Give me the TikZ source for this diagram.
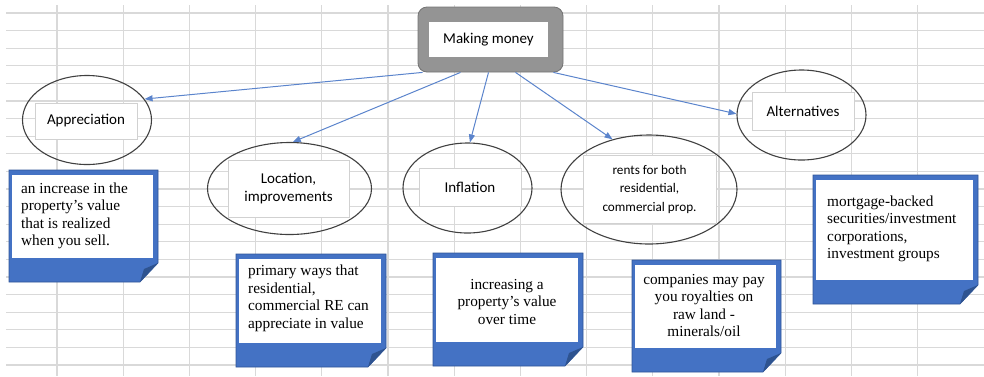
\documentclass[tikz,border=0pt]{standalone}
\usepackage{fontspec}
\setmainfont{Liberation Serif}
\newfontfamily\boxfont{Carlito}
\usetikzlibrary{arrows.meta,shapes.geometric}
\definecolor{gridgray}{HTML}{D9D9D9}
\definecolor{notecol}{HTML}{4472C4}
\definecolor{notedge}{HTML}{2F5597}
\definecolor{notefold}{HTML}{2E5390}
\definecolor{linkblue}{HTML}{5B84CC}
\def\note(#1,#2)(#3,#4){%
	\filldraw[fill=notecol, draw=notedge, line width=0.6pt] (#1,#2) -- (#3,#2) -- (#3,{#4-19}) -- ({#3-18},#4) -- (#1,#4) -- cycle;
	\fill[white] ({#1+3},{#2+5}) rectangle ({#3-5},{#4-24});
	\fill[notefold] ({#3-18},#4) -- (#3,{#4-19}) -- ({#3-14},{#4-13}) -- cycle;}

\begin{document}
\begin{tikzpicture}[x=1pt,y=-1pt,
	gridline/.style={draw=gridgray, line width=1.2pt},
	bubble/.style={ellipse, draw=black!75, line width=1.1pt, inner sep=0},
	tagbox/.style={draw=black!18, fill=white, line width=0.9pt, inner sep=0, align=center, font=\boxfont\fontsize{15}{18}\selectfont},
	link/.style={draw=linkblue, line width=1pt, -{Triangle[length=8pt,width=6pt]}},
	notetext/.style={inner sep=0, font=\fontsize{15.3}{17.5}\selectfont}]
	%%%%% START %%%%%
	\useasboundingbox (0,0) rectangle (984,376);
	
	% sheet grid
	\foreach \i in {0,...,13}
		\draw[gridline] ({57+66.2*\i},5) -- ({57+66.2*\i},376);
	\foreach \j in {0,...,20}
		\draw[gridline] (6,{13+17.6*\j}) -- (984,{13+17.6*\j});
	
	% top box
	\node[draw=black!55, fill=black!42, line width=0.8pt, rounded corners=9pt, minimum width=145, minimum height=65] (frame) at (490.5,39.5) {};
	\node[fill=white, inner sep=0, minimum width=119, minimum height=35, font=\boxfont\fontsize{15}{18}\selectfont] (money) at (488.5,39.5) {Making money};
	
	% ellipses
	\node[bubble, minimum width=129, minimum height=89] (appr) at (87,120) {};
	\node[tagbox, minimum width=102, minimum height=36] (apprtag) at (86,121) {Appreciation};
	
	\node[bubble, minimum width=164, minimum height=92] (loc) at (289.5,188.5) {};
	\node[tagbox, minimum width=121, minimum height=57] (loctag) at (288.5,188.5) {Location,\\improvements};
	
	\node[bubble, minimum width=129, minimum height=90] (infl) at (467.5,188) {};
	\node[tagbox, minimum width=102, minimum height=38] (infltag) at (470,187) {Inflation};
	
	\node[bubble, minimum width=176, minimum height=109] (rents) at (649,189.5) {};
	\node[tagbox, minimum width=133, minimum height=68, font=\boxfont\fontsize{13.2}{18.5}\selectfont] (rentstag) at (649.5,189) {rents for both\\residential,\\commercial prop.};
	
	\node[bubble, minimum width=129, minimum height=90] (alt) at (801.5,115) {};
	\node[tagbox, minimum width=102, minimum height=38] (alttag) at (803,111) {Alternatives};
	
	% arrows
	\draw[link] ([xshift=5]frame.south west) -- (appr.20);
	\draw[link] ([xshift=-30]frame.south) -- (loc.86);
	\draw[link] ([xshift=-2]frame.south) -- (infl.87);
	\draw[link] ([xshift=25]frame.south) -- (rents.126);
	\draw[link] ([xshift=-10]frame.south east) -- (alt.179);
	
	% notes
	\note(9,170)(158,282);
	\node[notetext, anchor=west, align=left] (apprnote) at (21,216) {an increase in the\\property's value\\that is realized\\when you sell.};
	
	\note(236,254)(386,367);
	\node[notetext, anchor=west, align=left] (locnote) at (248,298.5) {primary ways that\\residential,\\commercial RE can\\appreciate in value};
	
	\note(433,253)(583,366);
	\node[notetext, align=center] (inflnote) at (507,301.5) {increasing a\\property's value\\over time};
	
	\note(632,260)(781,372);
	\node[notetext, align=center] (rentsnote) at (704,305.5) {companies may pay\\you royalties on\\raw land -\\minerals/oil};
	
	\note(813,175)(978,304);
	\node[notetext, anchor=west, align=left] (altnote) at (827,229) {mortgage-backed\\securities/investment\\corporations,\\investment groups};
	
	%%%%% END %%%%%
\end{tikzpicture}
\end{document}
